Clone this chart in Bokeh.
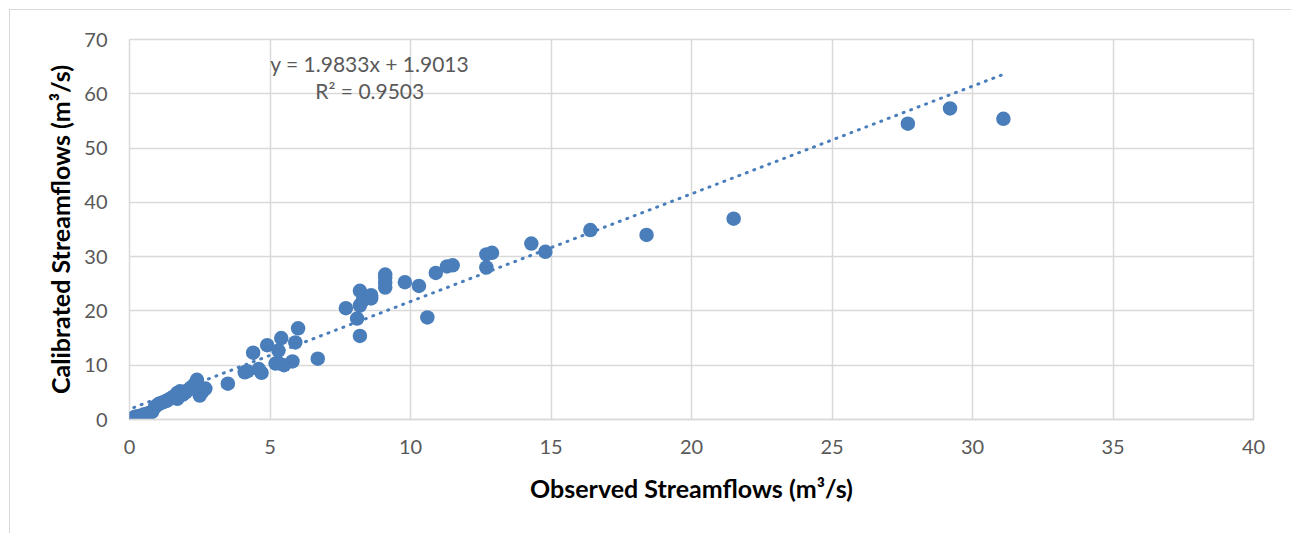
from bokeh.plotting import figure
from bokeh.models import Range1d, SingleIntervalTicker, Label
from bokeh.embed import file_html
from bokeh.resources import INLINE

# Observed vs calibrated streamflows (m3/s)
observed = [
    0.15, 0.2, 0.3, 0.4, 0.5, 0.6, 0.7, 0.8, 0.9, 1.0, 1.1, 1.2, 1.3, 1.4, 1.5,
    1.6, 1.7, 1.7, 1.8, 1.9, 2.0, 2.1, 2.2, 2.3, 2.4, 2.4, 2.5, 2.5, 2.6, 2.7,
    3.5, 4.1, 4.2, 4.4, 4.6, 4.7, 4.9, 5.2, 5.3, 5.3, 5.4, 5.5, 5.8, 5.9, 6.0, 6.7,
    7.7, 8.1, 8.2, 8.2, 8.2, 8.3, 8.6, 8.6, 9.1, 9.1, 9.1, 9.1,
    9.8, 10.3, 10.6, 10.9, 11.3, 11.5, 12.7, 12.7, 12.9, 14.3, 14.8, 16.4, 18.4,
    21.5, 27.7, 29.2, 31.1,
]
calibrated = [
    0.3, 0.5, 0.6, 0.7, 0.9, 1.0, 1.2, 1.4, 2.3, 2.7, 3.0, 3.2, 3.4, 3.7, 4.0,
    4.3, 3.8, 4.9, 5.2, 4.6, 5.0, 5.5, 5.9, 6.4, 7.3, 6.7, 4.4, 5.7, 5.2, 5.7,
    6.6, 8.7, 8.9, 12.3, 9.3, 8.6, 13.7, 10.3, 12.7, 10.4, 15.0, 10.0, 10.7, 14.2, 16.8, 11.2,
    20.5, 18.6, 15.4, 21.0, 23.7, 21.9, 22.3, 22.9, 24.3, 25.2, 26.1, 26.7,
    25.3, 24.6, 18.8, 27.0, 28.2, 28.4, 28.0, 30.4, 30.7, 32.4, 30.9, 34.9, 34.0,
    37.0, 54.5, 57.3, 55.4,
]
slope = 1.9833
intercept = 1.9013
r_squared = 0.9503

x_ticks_interval = 5
y_ticks_interval = 10

BLUE = "#4a7ebb"
GRID = "#d9d9d9"
FONT = "Lato"

p = figure(width=1282, height=524, output_backend="svg", toolbar_location=None,
           x_range=Range1d(0, 40), y_range=Range1d(0, 70),
           min_border_left=119, min_border_right=39, min_border_top=29, min_border_bottom=115)
p.styles = {"margin-left": "9px", "margin-top": "9px",
            "border-left": "1px solid #d9d9d9", "border-top": "1px solid #d9d9d9"}
p.background_fill_color = "white"
p.border_fill_color = "white"
p.outline_line_color = GRID
p.outline_line_width = 1.5

p.xaxis.ticker = SingleIntervalTicker(interval=x_ticks_interval)
p.yaxis.ticker = SingleIntervalTicker(interval=y_ticks_interval)
p.xgrid.ticker = SingleIntervalTicker(interval=x_ticks_interval)
p.ygrid.ticker = SingleIntervalTicker(interval=y_ticks_interval)
p.xgrid.grid_line_color = GRID
p.ygrid.grid_line_color = GRID
p.xgrid.grid_line_width = 1.5
p.ygrid.grid_line_width = 1.5

for ax in (p.xaxis, p.yaxis):
    ax.major_tick_in = 0
    ax.major_tick_out = 0
    ax.minor_tick_in = 0
    ax.minor_tick_out = 0
    ax.major_label_text_font = FONT
    ax.major_label_text_font_size = "20px"
    ax.major_label_text_color = "#595959"
    ax.axis_label_text_font = FONT
    ax.axis_label_text_font_size = "25px"
    ax.axis_label_text_font_style = "bold"
    ax.axis_label_text_color = "black"
p.xaxis.axis_line_color = GRID
p.xaxis.axis_line_width = 1.5
p.yaxis.axis_line_color = None
p.xaxis.major_label_standoff = 20
p.yaxis.major_label_standoff = 22
p.xaxis.axis_label = "Observed Streamflows (m³/s)"
p.yaxis.axis_label = "Calibrated Streamflows (m³/s)"
p.xaxis.axis_label_standoff = 16
p.yaxis.axis_label_standoff = 6

# trendline
x0, x1 = min(observed), max(observed)
p.line([x0, x1], [slope * x0 + intercept, slope * x1 + intercept],
       line_color=BLUE, line_width=3, line_dash="1 7", line_cap="round")

p.scatter(observed, calibrated, size=14.5, fill_color=BLUE, line_color=BLUE, line_width=0)

eq1 = Label(x=8.55, y=65.6, text=f"y = {slope}x + {intercept}", text_align="center",
            text_baseline="middle", text_font=FONT, text_font_size="21px", text_color="#595959")
eq2 = Label(x=8.55, y=60.6, text=f"R² = {r_squared}", text_align="center",
            text_baseline="middle", text_font=FONT, text_font_size="21px", text_color="#595959")
p.add_layout(eq1)
p.add_layout(eq2)

open("out.html", "w").write(file_html(p, INLINE))
